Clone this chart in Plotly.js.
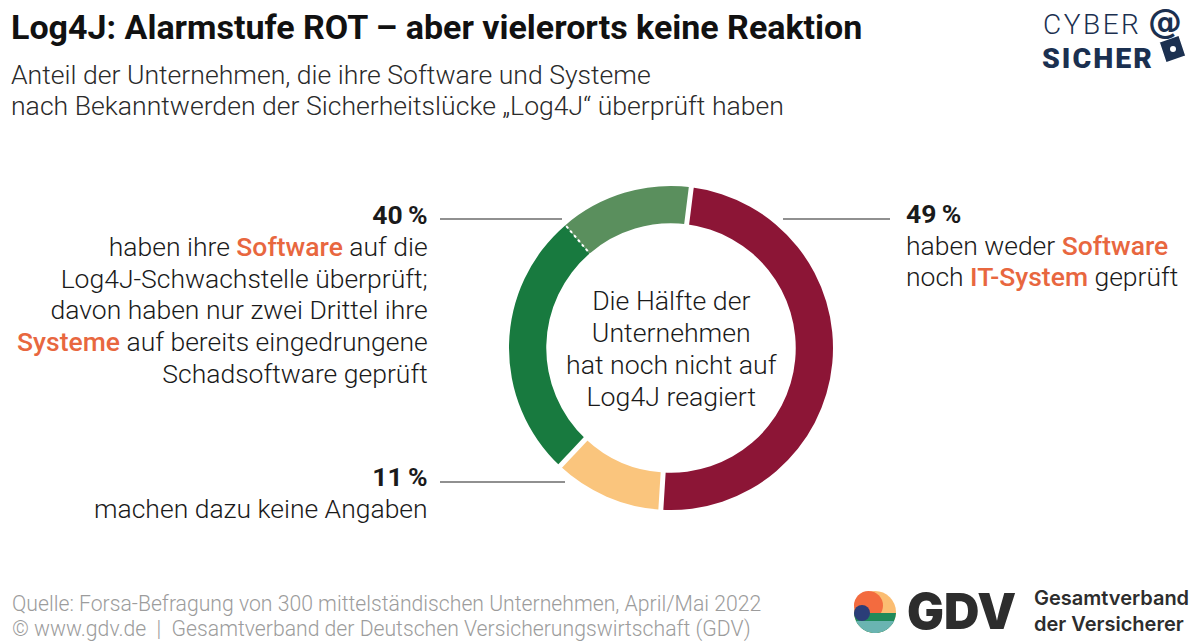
<!DOCTYPE html>
<html><head><meta charset="utf-8">
<script src="https://cdn.plot.ly/plotly-3.0.1.min.js"></script>
<style>html,body{margin:0;padding:0;background:#fff;}#chart{width:1200px;height:642px;}</style>
</head><body><div id="chart"></div>
<script>
// ---- data ----
const segLabels = ['weder Software noch IT-System geprüft', 'keine Angaben', 'Software und Systeme geprüft', 'nur Software geprüft'];
const segValues = [49, 11, 26.7, 13.3];
const labelPercents = ['49\u2009%', '11\u2009%', '40\u2009%'];

const titleText = 'Log4J: Alarmstufe ROT – aber vielerorts keine Reaktion';
const subtitleLines = ['Anteil der Unternehmen, die ihre Software und Systeme', 'nach Bekanntwerden der Sicherheitslücke „Log4J“ überprüft haben'];
const centerLines = ['Die Hälfte der', 'Unternehmen', 'hat noch nicht auf', 'Log4J reagiert'];
const sourceLines = ['Quelle: Forsa-Befragung von 300 mittelständischen Unternehmen, April/Mai 2022', '© www.gdv.de  |  Gesamtverband der Deutschen Versicherungswirtschaft (GDV)'];

// ---- styles ----
const W = 1200, H = 642;
const ORANGE = '#e8673f';
const NAVY = '#1b3050';
const colors = ['#8c1536', '#fac57d', '#187a3f', '#5a8f5d'];
const FONT = 'Roboto, "Liberation Sans", sans-serif';
const px = x => x / W;
const py = y => 1 - y / H;
const hl = t => '<span style="color:' + ORANGE + ';font-weight:500">' + t + '</span>';

const cx = 671, cy = 348, R = 162, hole = 0.77, rot = 7.2;

const leftLines = ['haben ihre ' + hl('Software') + ' auf die', 'Log4J-Schwachstelle überprüft;', 'davon haben nur zwei Drittel ihre', hl('Systeme') + ' auf bereits eingedrungene', 'Schadsoftware geprüft'];
const rightLines = ['haben weder ' + hl('Software'), 'noch ' + hl('IT-System') + ' geprüft'];

const ann = [];
// multi-line block: glyph size fs, line pitch controlled by base size (pitch = 1.3 * base)
function block(lines, x, yMid, o) {
  o = o || {};
  const fs = o.size || 26.5;
  const base = (o.pitch || 32) / 1.3;
  const t = lines.map(l => '<span style="font-size:' + fs + 'px">' + l + '</span>').join('<br>');
  ann.push({text: t, x: px(x), y: py(yMid), xref: 'paper', yref: 'paper', showarrow: false,
    xanchor: o.xa || 'left', yanchor: 'middle', align: o.xa || 'left',
    font: {family: o.family || FONT, size: base, color: o.color || '#1a1a1a', weight: o.weight || 300}});
}
function txt(t, x, y, o) {
  o = o || {};
  ann.push({text: t, x: px(x), y: py(y), xref: 'paper', yref: 'paper', showarrow: false,
    xanchor: o.xa || 'left', yanchor: 'middle', align: o.xa || 'left',
    font: {family: o.family || FONT, size: o.size || 26, color: o.color || '#1a1a1a', weight: o.weight || 300}});
}
txt(titleText, 9, 27, {size: 34, weight: 700, color: '#111'});
block(subtitleLines, 9, 90.5, {size: 26.6, pitch: 31, color: '#2a2a2a'});

block(['<b>' + labelPercents[2] + '</b>'].concat(leftLines), 430, 293.5, {xa: 'right', size: 26.5, pitch: 31.8});
block(['<b>' + labelPercents[0] + '</b>'].concat(rightLines), 904, 245.5, {size: 26.5, pitch: 31.5});
block(['<b>' + labelPercents[1] + '</b>', 'machen dazu keine Angaben'], 430, 492, {xa: 'right', size: 26.5, pitch: 32});

block(centerLines, cx, 349, {xa: 'center', size: 26.7, pitch: 32});
block(sourceLines, 10, 616.5, {size: 21.2, pitch: 25, color: '#9c9c9c'});

// logos (text-based)
txt('<span style="letter-spacing:2.5px">CYBER</span>', 1041, 24, {size: 28, color: NAVY, weight: 300});
txt('<span style="letter-spacing:2px">SICHER</span>', 1040, 58, {size: 28.5, color: NAVY, weight: 900});
txt('@', 1146, 21, {size: 34, color: NAVY, weight: 700, family: '"DejaVu Sans", sans-serif'});
txt('GDV', 905, 611, {size: 49, color: '#2d2d2d', weight: 900, family: 'Inter, Roboto, sans-serif'});
block(['Gesamtverband', 'der Versicherer'], 1032, 611, {size: 20, pitch: 26, color: '#2d2d2d', weight: 600, family: 'Inter, Roboto, sans-serif'});

// ---- shapes ----
const shapes = [];
const gray = {color: '#6b6b6b', width: 1.6};
function hline(x0, x1, y) { shapes.push({type: 'line', xref: 'paper', yref: 'paper', x0: px(x0), x1: px(x1), y0: py(y), y1: py(y), line: gray}); }
hline(440, 562, 219);
hline(783, 890, 219);
hline(440, 565, 482);

// segment separators, computed from the data
const total = segValues.reduce((a, b) => a + b, 0);
let acc = 0;
segValues.forEach((v, i) => {
  const ang = (rot + acc / total * 360) * Math.PI / 180;
  const s = Math.sin(ang), c = Math.cos(ang);
  const r0 = R * hole - 3, r1 = R + 3;
  const dotted = (i === 3);
  shapes.push({type: 'line', xref: 'paper', yref: 'paper',
    x0: px(cx + s * r0), y0: py(cy - c * r0), x1: px(cx + s * r1), y1: py(cy - c * r1),
    line: {color: '#ffffff', width: dotted ? 2 : 5, dash: dotted ? 'dot' : 'solid'}});
  acc += v;
});

// GDV circle logo
const lc = [875, 612], lr = 21;
function halfDisk(yTop, col) {
  let p = '';
  for (let k = 0; k <= 32; k++) {
    const a = Math.PI * k / 32;
    const x = lc[0] + lr * Math.cos(a);
    const yy = Math.max(lc[1] + lr * Math.sin(a), yTop);
    p += (k ? 'L' : 'M') + px(x) + ',' + py(yy);
  }
  return {type: 'path', xref: 'paper', yref: 'paper', path: p + 'Z', fillcolor: col, line: {width: 0}};
}
shapes.push({type: 'circle', xref: 'paper', yref: 'paper', x0: px(lc[0] - lr), x1: px(lc[0] + lr), y0: py(lc[1] + lr), y1: py(lc[1] - lr), fillcolor: '#fbbd72', line: {width: 0}});
shapes.push({type: 'circle', xref: 'paper', yref: 'paper', x0: px(lc[0] - lr), x1: px(lc[0] + 8), y0: py(lc[1] + 8), y1: py(lc[1] - 21), fillcolor: '#f36b3f', line: {width: 0}});
shapes.push(halfDisk(lc[1] + 1, '#1f8a5a'));
shapes.push(halfDisk(lc[1] + 9, '#6ab4b1'));
shapes.push({type: 'circle', xref: 'paper', yref: 'paper', x0: px(lc[0] - lr), x1: px(lc[0] - 5), y0: py(lc[1] + 9), y1: py(lc[1] - 7), fillcolor: '#2b3d78', line: {width: 0}});
// lock of cyber logo
shapes.push({type: 'path', xref: 'paper', yref: 'paper',
  path: 'M' + px(1159) + ',' + py(42) + 'L' + px(1179) + ',' + py(35) + 'L' + px(1186) + ',' + py(56) + 'L' + px(1166) + ',' + py(63) + 'Z',
  fillcolor: NAVY, line: {color: '#ffffff', width: 1.5}});
shapes.push({type: 'circle', xref: 'paper', yref: 'paper', x0: px(1170), x1: px(1176), y0: py(52), y1: py(46), fillcolor: '#ffffff', line: {width: 0}});

const trace = {
  type: 'pie', labels: segLabels, values: segValues, sort: false, direction: 'clockwise', rotation: rot,
  hole: hole, textinfo: 'none', hoverinfo: 'label+percent',
  marker: {colors: colors, line: {width: 0}},
  domain: {x: [px(cx - R), px(cx + R)], y: [py(cy + R), py(cy - R)]},
  showlegend: false
};

Plotly.newPlot('chart', [trace], {
  width: W, height: H, margin: {l: 0, r: 0, t: 0, b: 0},
  paper_bgcolor: '#fff', plot_bgcolor: '#fff',
  annotations: ann, shapes: shapes, showlegend: false
}, {displayModeBar: false, staticPlot: true});
</script></body></html>
